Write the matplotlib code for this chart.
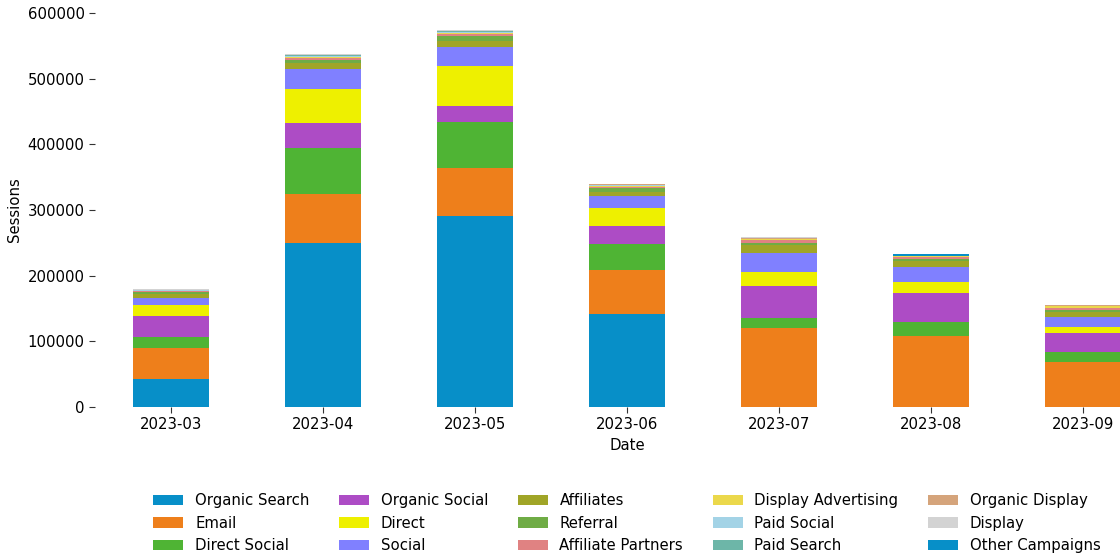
import matplotlib
matplotlib.use("Agg")
import matplotlib.pyplot as plt
import numpy as np

dates = ["2023-03", "2023-04", "2023-05", "2023-06", "2023-07", "2023-08", "2023-09"]

organic_search = [42000, 249000, 291000, 142000, 0, 0, 0]
email = [48000, 75000, 73000, 66000, 120000, 108000, 69000]
direct_social = [17000, 71000, 70000, 40000, 15500, 21000, 15000]
organic_social = [31000, 37000, 24000, 27500, 49000, 44000, 28500]
direct = [17000, 53000, 62000, 28000, 21000, 17000, 9000]
social = [11000, 29000, 27500, 18000, 29000, 23000, 15500]
affiliates = [6000, 9500, 10500, 6500, 12000, 10000, 8000]
referral = [3000, 5000, 7500, 5500, 3000, 2000, 3000]
affiliate_partners = [1000, 3500, 3000, 2000, 4500, 3000, 3000]
display_advertising = [500, 500, 1500, 1500, 2500, 2500, 2500]
paid_social = [1000, 1500, 1500, 1000, 0, 0, 0]
paid_search = [500, 1500, 1500, 500, 0, 0, 0]
organic_display = [0, 0, 0, 500, 1500, 0, 2500]
display = [1000, 1500, 1500, 1000, 1000, 0, 0]
other_campaigns = [0, 0, 0, 0, 0, 2000, 0]

series = [
    ("Organic Search", organic_search, "#078fc8"),
    ("Email", email, "#ee7f1b"),
    ("Direct Social", direct_social, "#4fb434"),
    ("Organic Social", organic_social, "#ad4cc5"),
    ("Direct", direct, "#eef000"),
    ("Social", social, "#8080ff"),
    ("Affiliates", affiliates, "#a0a527"),
    ("Referral", referral, "#6fac45"),
    ("Affiliate Partners", affiliate_partners, "#e08282"),
    ("Display Advertising", display_advertising, "#ebd84b"),
    ("Paid Social", paid_social, "#a3d3e6"),
    ("Paid Search", paid_search, "#6db6a8"),
    ("Organic Display", organic_display, "#d5a47b"),
    ("Display", display, "#d3d3d3"),
    ("Other Campaigns", other_campaigns, "#078fc8"),
]

FS = 10.7

fig = plt.figure(figsize=(11.2, 5.58), dpi=100)
ax = fig.add_axes([95/1120, (558-407)/558, 1064/1120, 394/558])

x = np.arange(len(dates))
bottom = np.zeros(len(dates))
for name, vals, col in series:
    v = np.array(vals, dtype=float)
    ax.bar(x, v, width=0.5, bottom=bottom, color=col, label=name, linewidth=0)
    bottom += v

ax.set_xlim(-0.5, len(dates) - 0.5)
ax.set_ylim(0, 600000)
ax.set_yticks(np.arange(0, 600001, 100000))
ax.set_xticks(x)
ax.set_xticklabels(dates)
for s in ax.spines.values():
    s.set_visible(False)
ax.tick_params(axis="both", labelsize=FS, length=4, color="#333333")
ax.set_ylabel("Sessions", fontsize=FS)
ax.set_xlabel("Date", fontsize=FS)

ax.legend(loc="upper center", bbox_to_anchor=(0.5, -0.185), ncol=5, frameon=False,
          fontsize=FS)

fig.savefig("out.png", dpi=100)
